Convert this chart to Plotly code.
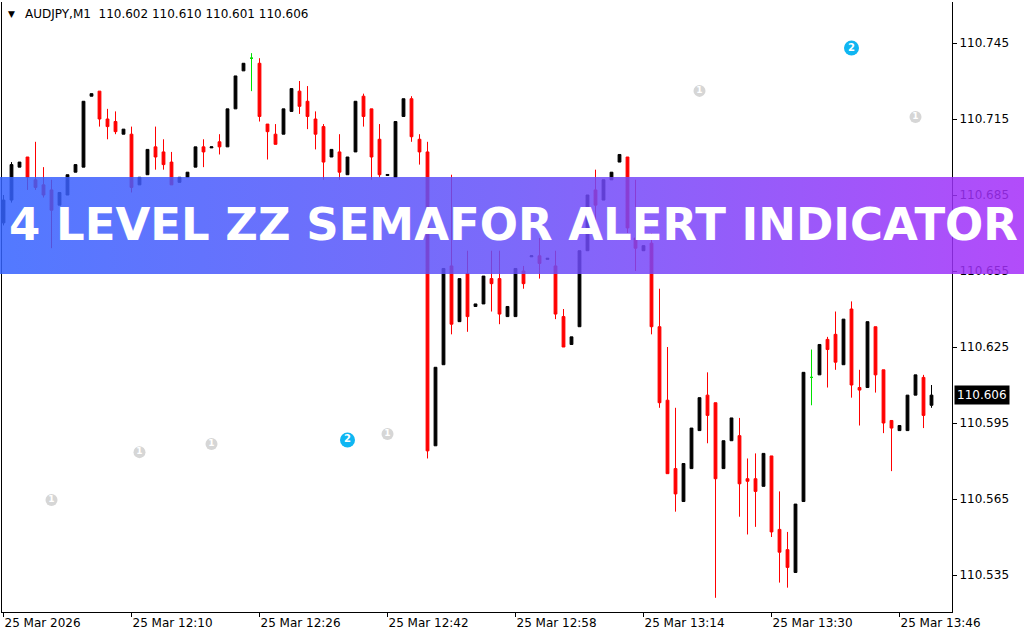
import base64
import plotly.graph_objects as go

# ---------------- data (AUDJPY M1, 25 Mar 2026 from 11:54) ----------------
open_ = [110.674, 110.683, 110.696, 110.700, 110.691, 110.689, 110.687, 110.681, 110.685, 110.694,
         110.696, 110.724, 110.726, 110.715, 110.714, 110.709, 110.709, 110.689, 110.693, 110.704,
         110.702, 110.698, 110.690, 110.692, 110.696, 110.704, 110.7036, 110.706, 110.704, 110.719,
         110.734, 110.739, 110.737, 110.713, 110.709, 110.709, 110.718, 110.726, 110.722, 110.715,
         110.712, 110.700, 110.702, 110.693, 110.702, 110.724, 110.719, 110.707, 110.6927, 110.692,
         110.716, 110.723, 110.707, 110.702, 110.586, 110.618, 110.657, 110.635, 110.654, 110.641,
         110.642, 110.652, 110.652, 110.637, 110.637, 110.655, 110.6606, 110.661, 110.6596, 110.657,
         110.637, 110.626, 110.633, 110.663, 110.687, 110.683, 110.691, 110.698, 110.700, 110.668,
         110.663, 110.666, 110.633, 110.604, 110.577, 110.564, 110.577, 110.592, 110.606, 110.603,
         110.577, 110.588, 110.590, 110.573, 110.573, 110.570, 110.582, 110.553, 110.545, 110.536,
         110.564, 110.613, 110.614, 110.628, 110.630, 110.618, 110.640, 110.609, 110.609, 110.633,
         110.616, 110.596, 110.592, 110.592, 110.606, 110.613, 110.602]
high = [110.685, 110.698, 110.698, 110.700, 110.706, 110.696, 110.691, 110.686, 110.693, 110.697,
        110.722, 110.725, 110.726, 110.719, 110.718, 110.711, 110.712, 110.692, 110.703, 110.712,
        110.707, 110.702, 110.692, 110.694, 110.704, 110.707, 110.704, 110.709, 110.719, 110.732,
        110.737, 110.741, 110.739, 110.713, 110.713, 110.719, 110.727, 110.730, 110.728, 110.718,
        110.713, 110.703, 110.709, 110.700, 110.722, 110.725, 110.719, 110.713, 110.6931, 110.714,
        110.723, 110.724, 110.709, 110.706, 110.617, 110.656, 110.693, 110.652, 110.663, 110.642,
        110.653, 110.663, 110.663, 110.641, 110.656, 110.657, 110.661, 110.668, 110.660, 110.663,
        110.640, 110.629, 110.663, 110.685, 110.695, 110.691, 110.694, 110.701, 110.700, 110.691,
        110.665, 110.670, 110.648, 110.625, 110.601, 110.579, 110.593, 110.605, 110.615, 110.603,
        110.588, 110.597, 110.597, 110.581, 110.583, 110.583, 110.582, 110.568, 110.552, 110.563,
        110.615, 110.624, 110.626, 110.629, 110.639, 110.636, 110.643, 110.616, 110.635, 110.633,
        110.616, 110.596, 110.594, 110.606, 110.614, 110.614, 110.610]
low = [110.673, 110.682, 110.696, 110.687, 110.687, 110.684, 110.664, 110.681, 110.685, 110.694,
       110.696, 110.724, 110.712, 110.707, 110.709, 110.709, 110.686, 110.689, 110.693, 110.695,
       110.695, 110.689, 110.690, 110.692, 110.696, 110.696, 110.7036, 110.701, 110.704, 110.719,
       110.734, 110.726, 110.714, 110.699, 110.705, 110.709, 110.718, 110.717, 110.711, 110.703,
       110.691, 110.700, 110.691, 110.693, 110.702, 110.712, 110.691, 110.692, 110.6927, 110.692,
       110.716, 110.706, 110.697, 110.581, 110.586, 110.618, 110.630, 110.635, 110.631, 110.641,
       110.642, 110.639, 110.634, 110.637, 110.637, 110.648, 110.6606, 110.652, 110.6596, 110.636,
       110.625, 110.626, 110.633, 110.663, 110.675, 110.683, 110.691, 110.698, 110.670, 110.655,
       110.663, 110.630, 110.601, 110.575, 110.560, 110.564, 110.577, 110.592, 110.587, 110.526,
       110.577, 110.588, 110.558, 110.551, 110.554, 110.570, 110.550, 110.532, 110.530, 110.536,
       110.564, 110.602, 110.614, 110.609, 110.616, 110.618, 110.605, 110.594, 110.609, 110.607,
       110.591, 110.576, 110.592, 110.592, 110.606, 110.593, 110.601]
close = [110.683, 110.697, 110.698, 110.692, 110.688, 110.685, 110.679, 110.686, 110.693, 110.697,
         110.722, 110.725, 110.715, 110.712, 110.710, 110.711, 110.688, 110.692, 110.703, 110.700,
         110.697, 110.689, 110.692, 110.694, 110.704, 110.702, 110.7040, 110.704, 110.719, 110.732,
         110.737, 110.739, 110.716, 110.710, 110.705, 110.719, 110.727, 110.720, 110.716, 110.709,
         110.698, 110.703, 110.694, 110.700, 110.722, 110.716, 110.700, 110.693, 110.6931, 110.714,
         110.723, 110.708, 110.702, 110.584, 110.617, 110.656, 110.634, 110.652, 110.637, 110.642,
         110.653, 110.650, 110.638, 110.641, 110.656, 110.650, 110.661, 110.658, 110.660, 110.638,
         110.625, 110.629, 110.663, 110.685, 110.681, 110.691, 110.694, 110.701, 110.672, 110.664,
         110.665, 110.633, 110.603, 110.575, 110.567, 110.579, 110.593, 110.605, 110.598, 110.573,
         110.588, 110.597, 110.571, 110.572, 110.568, 110.583, 110.552, 110.544, 110.538, 110.563,
         110.615, 110.613, 110.626, 110.624, 110.619, 110.636, 110.610, 110.608, 110.635, 110.614,
         110.595, 110.593, 110.594, 110.606, 110.614, 110.598, 110.606]

tick_bars = [0, 16, 32, 48, 64, 80, 96, 112]
tick_text = ["25 Mar 2026", "25 Mar 12:10", "25 Mar 12:26", "25 Mar 12:42",
             "25 Mar 12:58", "25 Mar 13:14", "25 Mar 13:30", "25 Mar 13:46"]
price_ticks = [110.535, 110.565, 110.595, 110.625, 110.655, 110.685, 110.715, 110.745]

# semafor signals (bar index, price, level)
sem1_bars = [6, 17, 26, 48, 87, 114]
sem1_price = [110.5646, 110.5835, 110.5867, 110.5907, 110.7261, 110.7158]
sem2_bars = [43, 106]
sem2_price = [110.5883, 110.7430]

header = "AUDJPY,M1\u00a0\u00a0110.602 110.610 110.601 110.606"
last_price = 110.606
banner_text = "4 LEVEL ZZ SEMAFOR ALERT INDICATOR"

# ---------------- figure ----------------
FONT = "DejaVu Sans"
idx = list(range(len(open_)))
groups = {
    "up": [i for i in idx if close[i] > open_[i]],
    "down": [i for i in idx if close[i] < open_[i]],
    "doji": [i for i in idx if close[i] == open_[i]],
}
colors = {"up": "black", "down": "#ff0000", "doji": "#00e000"}

fig = go.Figure()
for name, ids in groups.items():
    c = colors[name]
    fig.add_trace(go.Candlestick(
        x=ids,
        open=[open_[i] for i in ids], high=[high[i] for i in ids],
        low=[low[i] for i in ids], close=[close[i] for i in ids],
        increasing=dict(line=dict(color=c, width=1), fillcolor=c),
        decreasing=dict(line=dict(color=c, width=1), fillcolor=c),
        whiskerwidth=0, hoverinfo="skip", showlegend=False,
    ))

fig.add_trace(go.Scatter(
    x=sem1_bars, y=sem1_price, mode="markers+text", text=["1"] * len(sem1_bars),
    textposition="middle center", textfont=dict(family=FONT, size=9, color="white", weight="bold"),
    marker=dict(size=12, color="#d6d6d6"), hoverinfo="skip", showlegend=False, cliponaxis=False))
fig.add_trace(go.Scatter(
    x=sem2_bars, y=sem2_price, mode="markers+text", text=["2"] * len(sem2_bars),
    textposition="middle center", textfont=dict(family=FONT, size=10, color="white", weight="bold"),
    marker=dict(size=15, color="#0fb6f2"), hoverinfo="skip", showlegend=False, cliponaxis=False))

W, H = 1024, 640
L, R, T, B = 2, 72, 2, 28
pw, ph = W - L - R, H - T - B
px_per_bar = 8.0
x_range = [-1.5 / px_per_bar, -1.5 / px_per_bar + pw / px_per_bar]
ppu = 76 / 0.03  # pixels per price unit
y_top = 110.745 + (43 - T) / ppu
y_range = [y_top - ph / ppu, y_top]

# gradient banner (semi-transparent)
svg = ('<svg xmlns="http://www.w3.org/2000/svg" width="1024" height="97" viewBox="0 0 1024 97" '
       'preserveAspectRatio="none"><defs><linearGradient id="g" x1="0" y1="0" x2="1" y2="0">'
       '<stop offset="0" stop-color="#3462ff"/><stop offset="0.5" stop-color="#664ff9"/>'
       '<stop offset="1" stop-color="#a52df9"/></linearGradient></defs>'
       '<rect width="1024" height="97" fill="url(#g)" fill-opacity="0.85"/></svg>')
src = "data:image/svg+xml;base64," + base64.b64encode(svg.encode()).decode()
ban_top, ban_bot = 177, 274
fig.add_layout_image(dict(
    source=src, xref="paper", yref="paper",
    x=(0 - L) / pw, y=(H - B - ban_top) / ph,
    sizex=W / pw, sizey=(ban_bot - ban_top) / ph,
    xanchor="left", yanchor="top", sizing="stretch", layer="above"))

fig.add_annotation(text=banner_text, xref="paper", yref="paper",
                   x=(513 - L) / pw, y=(H - B - 224.5) / ph, xanchor="center", yanchor="middle",
                   showarrow=False, font=dict(family=FONT, size=45, color="white", weight="bold"))

# header
fig.add_annotation(text="\u25bc", xref="paper", yref="paper", x=(6 - L) / pw, y=(H - B - 14) / ph,
                   xanchor="left", yanchor="middle", showarrow=False,
                   font=dict(family=FONT, size=9, color="black"))
fig.add_annotation(text=header, xref="paper", yref="paper", x=(23 - L) / pw, y=(H - B - 14) / ph,
                   xanchor="left", yanchor="middle", showarrow=False,
                   font=dict(family=FONT, size=12, color="black"))

# last price box
fig.add_annotation(text=f"{last_price:.3f}", xref="paper", yref="y", x=1, xshift=2, y=last_price,
                   xanchor="left", yanchor="middle", showarrow=False, bgcolor="black",
                   borderpad=2, font=dict(family=FONT, size=12, color="white"))

fig.update_layout(
    width=W, height=H, margin=dict(l=L, r=R, t=T, b=B, autoexpand=False),
    paper_bgcolor="white", plot_bgcolor="white",
    boxgap=0.5, boxmode="overlay",
    xaxis=dict(range=x_range, showgrid=False, zeroline=False, showline=True, linecolor="black",
               linewidth=1, ticks="outside", ticklen=4, tickcolor="black", automargin=False,
               tickvals=tick_bars, ticktext=tick_text, ticklabelposition="outside right",
               tickfont=dict(family=FONT, size=12, color="black"), rangeslider=dict(visible=False),
               fixedrange=True),
    yaxis=dict(range=y_range, side="right", showgrid=False, zeroline=False, showline=True,
               mirror=True, linecolor="black", linewidth=1, ticks="outside", ticklen=4,
               automargin=False,
               tickcolor="black", tickvals=price_ticks, ticktext=[f"{v:.3f}" for v in price_ticks],
               tickfont=dict(family=FONT, size=12, color="black"), fixedrange=True),
)

fig.write_html("out.html", config={"displayModeBar": False},
               post_script="document.body.style.margin='0';")
